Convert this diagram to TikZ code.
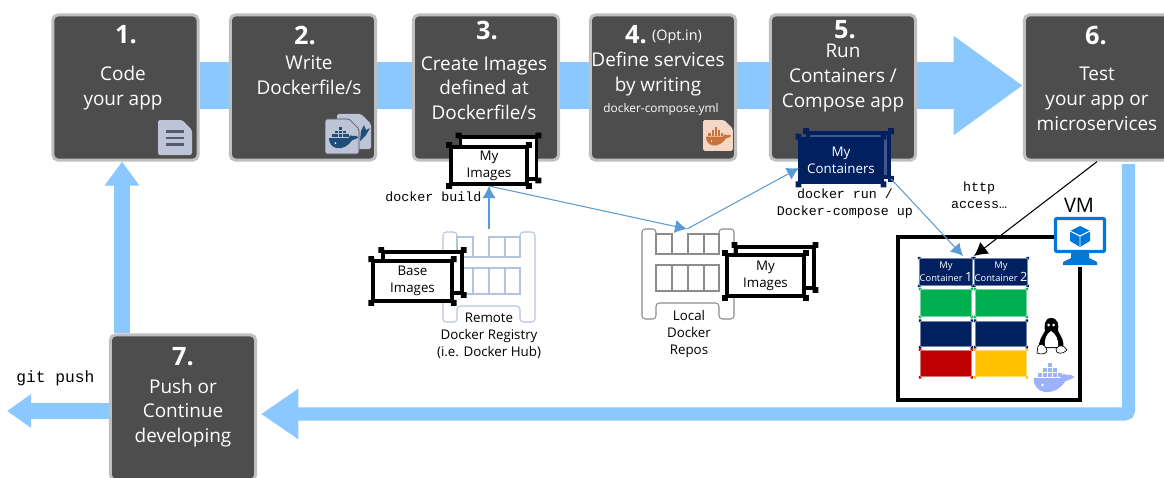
\documentclass[tikz,border=0pt]{standalone}
\usepackage{fontspec}
\setmainfont{Open Sans}
\setmonofont{Liberation Mono}
\usetikzlibrary{arrows.meta}
\definecolor{boxgrey}{HTML}{4D4D4D}
\definecolor{rimgrey}{HTML}{BFBFBF}
\definecolor{flowblue}{HTML}{8AC8FF}
\definecolor{thinblue}{HTML}{5B9BD5}
\definecolor{navy}{HTML}{002060}
\definecolor{slotgreen}{HTML}{00B050}
\definecolor{slotred}{HTML}{C00000}
\definecolor{slotyellow}{HTML}{FFC000}
\definecolor{vmblue}{HTML}{0078D7}
\definecolor{iconblue}{HTML}{BCC4D6}
\definecolor{iconline}{HTML}{515B6E}
\definecolor{whaleblue}{HTML}{1F4E79}
\definecolor{iconpeach}{HTML}{F4D7C4}
\definecolor{whaleorange}{HTML}{C9733A}
\definecolor{whalepale}{HTML}{9DB2FF}
\definecolor{rackblue}{HTML}{B4C3DE}
\definecolor{rackgrey}{HTML}{8C8C8C}
\tikzset{
    stepbox/.style={
        rectangle,rounded corners=4pt,draw=rimgrey,fill=boxgrey,
        line width=2.25pt,minimum width=109pt,minimum height=109pt
    },
    steptext/.style={text=white,align=center,inner sep=0pt,
        font=\fontsize{14.2}{18.5}\selectfont},
    stepnum/.style={text=white,inner sep=0pt,font=\fontsize{19}{24}\selectfont\bfseries},
    small/.style={inner sep=0pt,align=center,font=\fontsize{10}{12.6}\selectfont},
    code/.style={inner sep=0pt,align=center,font=\fontsize{10}{13}\selectfont\ttfamily},
    imgbox/.style={
        rectangle,draw=#1,fill=white,line width=2.8pt,inner sep=0pt,
        append after command={\pgfextra{
            \fill [#1] (\tikzlastnode.north west) +(-2.2pt,-2.2pt) rectangle +(2.2pt,2.2pt)
                (\tikzlastnode.north east) +(-2.2pt,-2.2pt) rectangle +(2.2pt,2.2pt)
                (\tikzlastnode.south west) +(-2.2pt,-2.2pt) rectangle +(2.2pt,2.2pt)
                (\tikzlastnode.south east) +(-2.2pt,-2.2pt) rectangle +(2.2pt,2.2pt);
        }}
    },
    slot/.style={
        rectangle,draw=#1!55!white,fill=#1,line width=.8pt,inner sep=0pt,
        minimum width=38pt,text=white,align=center,
        font=\fontsize{7}{8}\selectfont,
        append after command={\pgfextra{
            \fill [#1] (\tikzlastnode.north west) +(-1pt,-1pt) rectangle +(1pt,1pt)
                (\tikzlastnode.north east) +(-1pt,-1pt) rectangle +(1pt,1pt)
                (\tikzlastnode.south west) +(-1pt,-1pt) rectangle +(1pt,1pt)
                (\tikzlastnode.south east) +(-1pt,-1pt) rectangle +(1pt,1pt);
        }}
    },
    flow/.style={draw=flowblue,line width=#1},
    thin link/.style={draw=thinblue,line width=.8pt,
        -{Latex[length=9pt,width=10pt]}},
    rack/.pic={
        \path[pic actions,line width=.8pt,rounded corners=2.5pt]
            (14,5) -- (14,0) -- (0,0) -- (0,90) -- (14,90) -- (14,74) -- (77,74)
            -- (77,90) -- (92,90) -- (92,0) -- (77,0) -- (77,5);
        \path[pic actions,line width=.8pt]
            (14,5) -- (30,5) -- (30,25) -- (14,25) -- cycle
            (46,25) -- (46,5) -- (77,5) -- (77,25) -- (30,25)
            (62,5) -- (62,25)
            (14,36) rectangle (77,62)
            (30,36) -- (30,62) (46,36) -- (46,62) (62,36) -- (62,62);
    },
    docicon/.pic={
        \path[pic actions,rounded corners=1.2pt]
            (0,0) -- (24,0) -- (34,10) -- (34,35) -- (0,35) -- cycle;
    },
    whale/.pic={
        \path[pic actions]
            (0,14) -- (27,14) .. controls (28,10) and (31,9) .. (33,11)
            .. controls (36,10) and (39,11) .. (41,13)
            .. controls (37,16) and (34,16) .. (32,17)
            .. controls (27,25) and (19,29) .. (11,28)
            .. controls (4,27) and (0,21) .. (0,14) -- cycle;
        \foreach \cx/\cy in {4/8.5,9/8.5,14/8.5,19/8.5,24/8.5,9/3.5,14/3.5,19/3.5,14/-1.5}
            \path[pic actions] (\cx,\cy) rectangle ++(4,4);
        \fill[white] (9,21) circle (1.3);
    }
}
\begin{document}
\begin{tikzpicture}[x=.75pt,y=-.75pt]
    \useasboundingbox (0,0) rectangle (1164,478);
    \clip (0,0) rectangle (1164,478);

    % step boxes
    \node [stepbox] (code) at (125.5,87.5) {};
    \node [stepbox] (write) at (303,87.5) {};
    \node [stepbox] (create) at (486,87.5) {};
    \node [stepbox] (define) at (663,87.5) {};
    \node [stepbox] (run) at (843,87.5) {};
    \node [stepbox] (test) at (1097,87.5) {};
    \node [stepbox] (push) at (183,407.5) {};

    % wide arrows
    \coordinate (flowy) at (0,85.5);
    \coordinate (upx) at (122,0);
    \coordinate (testout) at (1128.5,164);
    \coordinate (gittip) at (7,411);
    \coordinate (backtip) at (261,414);
    \draw [flow=35.25pt] (code.east |- flowy) -- (write.west |- flowy);
    \draw [flow=35.25pt] (write.east |- flowy) -- (create.west |- flowy);
    \draw [flow=35.25pt] (create.east |- flowy) -- (define.west |- flowy);
    \draw [flow=35.25pt] (define.east |- flowy) -- (run.west |- flowy);
    \draw [flow=35.25pt,-{Triangle[length=52pt,width=71pt]}] (run.east |- flowy) -- (test.west |- flowy);
    \draw [flow=12pt,-{Triangle[length=18pt,width=25pt]}] (push.north -| upx) -- (code.south -| upx);
    \draw [flow=10pt,rounded corners=3pt,-{Triangle[length=28pt,width=36pt]}] (testout) |- (backtip);
    \draw [flow=12pt,-{Triangle[length=18pt,width=24pt]}] (push.west |- gittip) -- (gittip);

    % step texts
    \node [stepnum] (num1) at (126,35) {1.};
    \node [steptext] (text1) at (123,88) {Code\\your app};
    \node [stepnum] (num2) at (305,35) {2.};
    \node [steptext] (text2) at (309,75) {Write\\Dockerfile/s};
    \node [stepnum] (num3) at (487,30) {3.};
    \node [steptext] (text3) at (484,88) {Create Images\\defined at\\Dockerfile/s};
    \node [stepnum] (num4) at (636,35) {4.};
    \node [inner sep=0pt,text=white,font=\fontsize{10.8}{12}\selectfont] (opt4) at (677,37) {(Opt.in)};
    \node [steptext] (text4) at (658,74) {Define services\\by writing};
    \node [inner sep=0pt,text=white,font=\fontsize{8.9}{11}\selectfont] (file4) at (661,109) {docker-compose.yml};
    \node [stepnum] (num5) at (845,30) {5.};
    \node [steptext] (text5) at (843,78) {Run\\Containers /\\Compose app};
    \node [stepnum] (num6) at (1096,36) {6.};
    \node [steptext] (text6) at (1097,99) {Test\\your app or\\microservices};
    \node [stepnum] (num7) at (183,357) {7.};
    \node [steptext] (text7) at (183,413) {Push or\\Continue\\developing};

    % icons
    \pic [fill=iconblue] at (158,120) {docicon};
    \draw [iconline,line width=2pt] (166,131.5) -- (184,131.5) (166,138) -- (184,138) (166,144.5) -- (184,144.5);
    \pic [fill=iconblue] at (337,114) {docicon};
    \fill [whaleblue] (361,131) -- (364,125) -- (366,130) -- (370,128) -- (366,135) -- (360,141) -- cycle;
    \pic [fill=iconblue,draw=boxgrey,line width=.5pt] at (325,119) {docicon};
    \pic [fill=whaleblue,scale=.72] at (329,128) {whale};
    \pic [fill=iconpeach,scale=.88] at (703,120) {docicon};
    \pic [fill=whaleorange,scale=.62] at (706,128) {whale};

    % image stacks
    \node [imgbox=black,minimum width=57pt,minimum height=31pt] (myback) at (498.5,158) {};
    \node [imgbox=black,minimum width=57pt,minimum height=28pt,small] (myimages) at (489,165.5) {My\\Images};
    \pic [draw=rackblue] at (443,232) {rack};
    \pic [draw=rackgrey] at (642,229) {rack};
    \node [imgbox=black,minimum width=59pt,minimum height=31pt] (baseback) at (422.5,272.5) {};
    \node [imgbox=black,minimum width=59pt,minimum height=30pt,small] (baseimages) at (412.5,281) {Base\\Images};
    \node [imgbox=black,minimum width=58pt,minimum height=31pt] (localback) at (775,267.5) {};
    \node [imgbox=black,minimum width=58pt,minimum height=31pt,small] (localimages) at (765.5,275.5) {My\\Images};
    \node [imgbox=navy,fill=navy!75!white,minimum width=61pt,minimum height=33pt] (contback) at (848.5,155) {};
    \node [imgbox=navy,fill=navy,text=white,minimum width=61pt,minimum height=33pt,small] (containers) at (841,160.5) {My\\Containers};

    % labels
    \node [small] (remote) at (489,336) {Remote\\Docker Registry\\(i.e. Docker Hub)};
    \node [small] (local) at (689,334) {Local\\Docker\\Repos};
    \node [code,anchor=west] (build) at (385,197) {docker build};
    \node [code] (runcmd) at (845,203.5) {docker run /\\Docker-compose up};
    \node [code] (http) at (979,195) {http\\access…};
    \node [code,anchor=west,font=\fontsize{12.2}{14}\selectfont\ttfamily] (gitpush) at (16,378) {git push};

    % vm frame
    \node [slot=navy,minimum height=20pt] (slot1a) at (946,272) {My\\Container {\fontsize{9.5}{8}\selectfont 1}};
    \node [slot=navy,minimum height=20pt] (slot1b) at (1001,272) {My\\Container {\fontsize{9.5}{8}\selectfont 2}};
    \node [slot=slotgreen,minimum height=20pt] (slot2a) at (946,303) {};
    \node [slot=slotgreen,minimum height=20pt] (slot2b) at (1001,303) {};
    \node [slot=navy,minimum height=19pt] (slot3a) at (946,334) {};
    \node [slot=navy,minimum height=19pt] (slot3b) at (1001,334) {};
    \node [slot=slotred,minimum height=20pt] (slot4a) at (946,363.5) {};
    \node [slot=slotyellow,minimum height=20pt] (slot4b) at (1001,363.5) {};
    \draw [line width=3pt] (1054,237) -- (898,237) -- (898,400) -- (1080,400) -- (1080,267);

    % vm monitor
    \draw [vmblue,line width=2.4pt,fill=white,rounded corners=.8pt] (1055.5,218.5) rectangle (1104.5,251.5);
    \fill [vmblue] (1071,251) -- (1089,251) -- (1089,258) -- (1097,262) -- (1097,265) -- (1063,265) -- (1063,262) -- (1071,258) -- cycle;
    \fill [vmblue] (1080,226) -- (1090,231) -- (1090,241) -- (1080,247) -- (1070,241) -- (1070,231) -- cycle;
    \draw [white,line width=.7pt] (1070,231) -- (1080,236) -- (1090,231) (1080,236) -- (1080,247);
    \node [inner sep=0pt,font=\fontsize{15}{18}\selectfont] (vm) at (1079,205) {VM};

    % penguin and whale
    \fill [black] (1051,318) .. controls (1044,318) and (1044,327) .. (1045,331) .. controls (1042,336) and (1038,342) .. (1039,348) -- (1063,348) .. controls (1065,342) and (1061,336) .. (1058,331) .. controls (1059,325) and (1058,318) .. (1051,318) -- cycle;
    \fill [white] (1051,331) .. controls (1046,334) and (1044,340) .. (1045,347) -- (1058,347) .. controls (1059,340) and (1056,334) .. (1051,331) -- cycle;
    \fill [white] (1048.5,325) circle (1.5) (1053.5,325) circle (1.5);
    \draw [black,fill=white,line width=.5pt] (1038,346) .. controls (1040,343) and (1045,344) .. (1047,350) .. controls (1048,354) and (1040,355) .. (1037,353) -- cycle;
    \draw [black,fill=white,line width=.5pt] (1067,350) .. controls (1064,345) and (1059,344) .. (1056,349) .. controls (1055,354) and (1063,355) .. (1067,350) -- cycle;
    \pic [fill=whalepale] at (1033.5,364) {whale};

    % connectors
    \coordinate (remotetop) at (489,229);
    \coordinate (localtop) at (687,229);
    \coordinate (contin) at (799,168);
    \coordinate (slotin) at (963,256);
    \coordinate (httpin) at (974,256);
    \draw [thin link] (remotetop) -- (myimages.south);
    \draw [thin link] (myimages.south) -- (localtop);
    \draw [thin link] (localtop) -- (contin);
    \draw [thin link] (contback.south east) -- (slotin);
    \draw [black,line width=.8pt,-{Latex[length=10pt,width=11pt]}] (test.south) -- (httpin);
\end{tikzpicture}
\end{document}
